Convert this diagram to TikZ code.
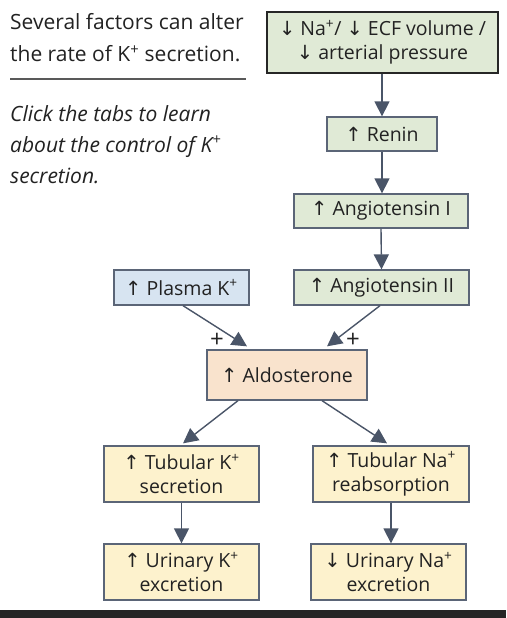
\documentclass[tikz,border=0pt]{standalone}
\usepackage{fontspec}
\setmainfont{Open Sans}
\newfontfamily\arrowfont{DejaVu Sans}
\usetikzlibrary{arrows.meta}
\definecolor{gfill}{HTML}{E0EAD6}
\definecolor{bfill}{HTML}{D7E4F1}
\definecolor{pfill}{HTML}{F9E3CD}
\definecolor{yfill}{HTML}{FDF2CD}
\definecolor{bord}{HTML}{5B6577}
\definecolor{arrc}{HTML}{4A5568}
\definecolor{txt}{HTML}{222222}
\newcommand{\upa}{{\arrowfont\char"2191}}
\newcommand{\dna}{{\arrowfont\char"2193}}
\newcommand{\spl}{\textsuperscript{+}}
\begin{document}
\begin{tikzpicture}[x=1pt,y=-1pt,
  every node/.style={text=txt,font=\fontsize{19.5}{24}\selectfont},
  side/.style={anchor=base west,inner sep=0pt,font=\fontsize{21}{25}\selectfont},
  box/.style={draw=bord,line width=1.3pt,inner sep=0pt,align=center},
  arr/.style={draw=arrc,line width=1.4pt,-{Triangle[width=15pt,length=15pt]}}]
\useasboundingbox (0,0) rectangle (506,618);
\fill[white] (0,0) rectangle (506,618);
\fill[black!85] (0,610) rectangle (506,618);
% left text
\node[side] (t1) at (10,30) {Several factors can alter};
\node[side] (t2) at (10,62) {the rate of K\spl{} secretion.};
\draw[black!65,line width=1.3pt] (10,79) coordinate (l1) -- (246,79) coordinate (l2);
\node[side,font=\fontsize{21}{25}\selectfont\itshape] (t3) at (10,121) {Click the tabs to learn};
\node[side,font=\fontsize{21}{25}\selectfont\itshape] (t4) at (10,152) {about the control of K\spl};
\node[side,font=\fontsize{21}{25}\selectfont\itshape] (t5) at (10,183) {secretion.};
% boxes
\node[box,draw=black!85,line width=1.8pt,fill=gfill,minimum width=231pt,minimum height=61pt] (top) at (382.5,42.5) {\dna{} Na\spl/ \dna{} ECF volume /\\ \dna{} arterial pressure};
\node[box,fill=gfill,minimum width=110pt,minimum height=34pt] (renin) at (382,134) {\upa{} Renin};
\node[box,fill=gfill,minimum width=174pt,minimum height=34pt] (ang1) at (381,211) {\upa{} Angiotensin I};
\node[box,fill=bfill,minimum width=135pt,minimum height=35pt] (plasma) at (181.5,287.5) {\upa{} Plasma K\spl};
\node[box,fill=gfill,minimum width=175pt,minimum height=35pt] (ang2) at (381.5,287.5) {\upa{} Angiotensin II};
\node[box,fill=pfill,minimum width=160pt,minimum height=50pt] (aldo) at (287,375) {\upa{} Aldosterone};
\node[box,fill=yfill,minimum width=155pt,minimum height=56pt] (tubk) at (181.5,474) {\upa{} Tubular K\spl\\secretion};
\node[box,fill=yfill,minimum width=156pt,minimum height=56pt] (tubna) at (391,474) {\upa{} Tubular Na\spl\\reabsorption};
\node[box,fill=yfill,minimum width=155pt,minimum height=56pt] (urik) at (181.5,572) {\upa{} Urinary K\spl\\excretion};
\node[box,fill=yfill,minimum width=155pt,minimum height=56pt] (urina) at (388.5,572) {\dna{} Urinary Na\spl\\excretion};
% connectors
\draw[arr] (top.south -| renin.north) -- (renin.north);
\draw[arr] (renin.south) -- (renin.south |- ang1.north);
\draw[arr] (ang1.south) -- (ang2.north);
\draw[arr] ([xshift=1.5pt]plasma.south) -- ([xshift=-40pt,yshift=3pt]aldo.north);
\draw[arr] ([xshift=-1.5pt]ang2.south) -- ([xshift=40pt,yshift=3pt]aldo.north);
\draw[arr] ([xshift=-49pt]aldo.south) -- ([xshift=1.5pt,yshift=2pt]tubk.north);
\draw[arr] ([xshift=35pt]aldo.south) -- ([xshift=-4pt,yshift=2pt]tubna.north);
\draw[arr] (tubk.south) -- (tubk.south |- urik.north);
\draw[arr] (tubna.south) -- (tubna.south |- urina.north);
\node[font=\fontsize{24}{26}\selectfont,inner sep=0pt] (p1) at (217,340) {+};
\node[font=\fontsize{24}{26}\selectfont,inner sep=0pt] (p2) at (353,340) {+};
\end{tikzpicture}
\end{document}
